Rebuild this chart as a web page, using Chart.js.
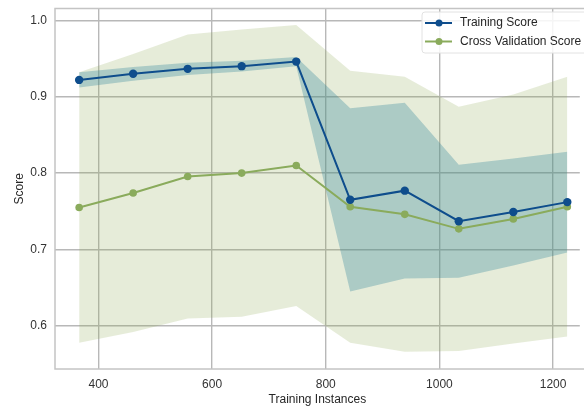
<!DOCTYPE html>
<html>
<head>
<meta charset="utf-8">
<script src="https://cdn.jsdelivr.net/npm/chart.js@4/dist/chart.umd.min.js"></script>
<style>
  html, body { margin: 0; padding: 0; background: #ffffff; }
  #wrap { width: 584px; height: 411px; position: relative; }
</style>
</head>
<body>
<div id="wrap"><canvas id="c" width="584" height="411"></canvas></div>
<script>
// Training set sizes and learning-curve scores
const trainSizes = [366, 461, 557, 652, 748, 843, 939, 1034, 1130, 1225];
const trainMean  = [0.922, 0.930, 0.9365, 0.940, 0.946, 0.765, 0.777, 0.737, 0.749, 0.762];
const trainStd   = [0.010, 0.009, 0.008, 0.007, 0.006, 0.120, 0.115, 0.074, 0.070, 0.066];
const cvMean     = [0.755, 0.774, 0.7955, 0.800, 0.810, 0.756, 0.746, 0.727, 0.740, 0.756];
const cvStd      = [0.177, 0.182, 0.186, 0.188, 0.184, 0.178, 0.180, 0.160, 0.163, 0.170];
const xTicks = [400, 600, 800, 1000, 1200];
const yTicks = [0.6, 0.7, 0.8, 0.9, 1.0];

const BLUE = '#0e4d8c';
const GREEN = '#8aab5c';
const FONT = '"Liberation Sans", Arial, sans-serif';

const pts = (ys) => trainSizes.map((x, i) => ({ x, y: ys[i] }));
const upper = (m, s) => m.map((v, i) => v + s[i]);
const lower = (m, s) => m.map((v, i) => v - s[i]);

// Shaded +/- one standard deviation bands sit behind the score lines
const band = (label, data, fill, color, order) => ({
  label, data, fill, backgroundColor: color, borderWidth: 0, borderColor: 'rgba(0,0,0,0)',
  pointRadius: 0, showLine: true, tension: 0, inLegend: false, order
});

const datasets = [
  band('cv-upper', pts(upper(cvMean, cvStd)), '+1', 'rgba(141,169,80,0.22)', 10),
  band('cv-lower', pts(lower(cvMean, cvStd)), false, 'rgba(0,0,0,0)', 9),
  band('tr-upper', pts(upper(trainMean, trainStd)), '+1', 'rgba(50,135,155,0.32)', 8),
  band('tr-lower', pts(lower(trainMean, trainStd)), false, 'rgba(0,0,0,0)', 7),
  {
    label: 'Cross Validation Score', data: pts(cvMean), showLine: true, fill: false,
    borderColor: GREEN, backgroundColor: GREEN, borderWidth: 2,
    pointRadius: 3.8, pointBorderWidth: 0, pointBackgroundColor: GREEN, inLegend: true, order: 1
  },
  {
    label: 'Training Score', data: pts(trainMean), showLine: true, fill: false,
    borderColor: BLUE, backgroundColor: BLUE, borderWidth: 2,
    pointRadius: 4.2, pointBorderWidth: 0, pointBackgroundColor: BLUE, inLegend: true, order: 0
  }
];

// Frame around the plotting area
const framePlugin = {
  id: 'frame',
  beforeDatasetsDraw(chart) {
    const { ctx, chartArea: a } = chart;
    ctx.save();
    ctx.strokeStyle = '#c4c4c4';
    ctx.lineWidth = 1.5;
    ctx.strokeRect(a.left, a.top, a.right - a.left + 10, a.bottom - a.top);
    ctx.restore();
  }
};

// Legend box with line + marker samples, upper right of the plot
const legendPlugin = {
  id: 'lineLegend',
  afterDraw(chart) {
    const { ctx } = chart;
    const items = chart.data.datasets.filter(d => d.inLegend).sort((a, b) => a.order - b.order);
    const x0 = 422, y0 = 12, w = 170, h = 41;
    ctx.save();
    ctx.fillStyle = 'rgba(255,255,255,0.85)';
    ctx.strokeStyle = '#e2e2e2';
    ctx.lineWidth = 1;
    ctx.beginPath();
    ctx.roundRect(x0, y0, w, h, 3);
    ctx.fill();
    ctx.stroke();
    ctx.font = '12px ' + FONT;
    ctx.textBaseline = 'middle';
    items.forEach((d, i) => {
      const y = 23 + i * 18.5;
      ctx.strokeStyle = d.borderColor;
      ctx.lineWidth = 2;
      ctx.beginPath();
      ctx.moveTo(425, y);
      ctx.lineTo(452, y);
      ctx.stroke();
      ctx.fillStyle = d.borderColor;
      ctx.beginPath();
      ctx.arc(439, y, 3.5, 0, Math.PI * 2);
      ctx.fill();
      ctx.fillStyle = '#262626';
      ctx.fillText(d.label, 460, y);
    });
    ctx.restore();
  }
};

// Scales keep a fixed size and add no extra padding for edge tick labels
const fixBox = (prop, size) => (s) => {
  s[prop] = size;
  s.paddingTop = 0; s.paddingBottom = 0; s.paddingLeft = 0; s.paddingRight = 0;
};

new Chart(document.getElementById('c'), {
  type: 'scatter',
  data: { datasets },
  plugins: [framePlugin, legendPlugin],
  options: {
    responsive: false,
    animation: false,
    layout: { padding: { top: 8.5, right: 0, bottom: 0, left: 0 } },
    plugins: {
      legend: { display: false },
      tooltip: { enabled: false },
      filler: { propagate: false, drawTime: 'beforeDatasetsDraw' }
    },
    elements: { line: { tension: 0 } },
    scales: {
      x: {
        type: 'linear', min: 323.5, max: 1247,
        afterBuildTicks: (s) => { s.ticks = xTicks.map(v => ({ value: v })); },
        afterFit: fixBox('height', 42),
        grid: { color: '#b8b8b8', lineWidth: 1.4, drawTicks: false },
        border: { display: false },
        ticks: {
          padding: 8, color: '#333333',
          font: { family: FONT, size: 12 },
          callback: (v) => String(v)
        },
        title: {
          display: true, text: 'Training Instances', color: '#262626',
          font: { family: FONT, size: 12 },
          padding: { top: 0, bottom: 4 }
        }
      },
      y: {
        type: 'linear', min: 0.5435, max: 1.0155,
        afterBuildTicks: (s) => { s.ticks = yTicks.map(v => ({ value: v })); },
        afterFit: fixBox('width', 55),
        grid: { color: '#b8b8b8', lineWidth: 1.4, drawTicks: false },
        border: { display: false },
        ticks: {
          padding: 8, color: '#333333',
          font: { family: FONT, size: 12 },
          callback: (v) => Number(v).toFixed(1)
        },
        title: {
          display: true, text: 'Score', color: '#262626',
          font: { family: FONT, size: 12 },
          padding: { top: 12, bottom: 0 }
        }
      }
    }
  }
});
</script>
</body>
</html>
